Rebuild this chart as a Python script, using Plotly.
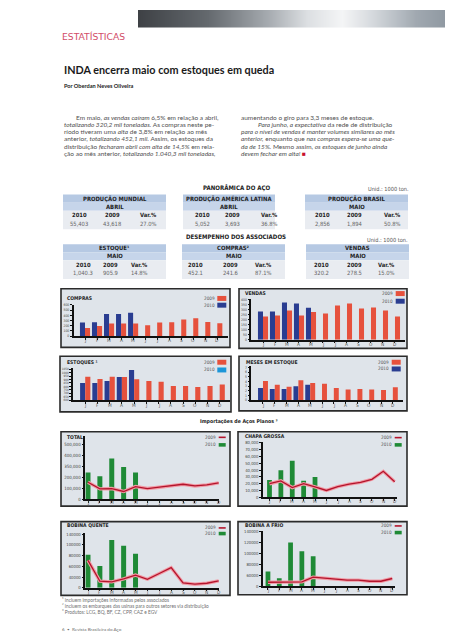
import plotly.graph_objects as go

W, H = 453, 640


def X(p):
    return p / W


def Y(p):
    return 1 - p / H


# ---------------- data ----------------
MONTHS = ["J", "F", "M", "A", "M", "J", "J", "A", "S", "O", "N", "D"]

compras_2009 = [159, 197, 242, 242, 242, 210, 261, 268, 318, 344, 274, 248]
compras_2010 = [261, 268, 427, 427, 452]
vendas_2009 = [233, 243, 293, 243, 278, 263, 343, 363, 313, 323, 293, 233]
vendas_2010 = [283, 283, 373, 363, 320]
estoques_2009 = [941, 907, 941, 936, 906, 878, 869, 806, 806, 792, 806, 830]
estoques_2010 = [850, 850, 878, 936, 1040]
meses_2009 = [4.1, 3.3, 2.9, 4.3, 3.7, 3.5, 2.6, 2.3, 2.4, 2.3, 2.2, 2.8]
meses_2010 = [2.6, 2.4, 2.4, 3.0, 3.3]
total_2009 = [158000, 97000, 100000, 73000, 118000, 100000, 112000, 127000, 139000, 124000, 133000, 152000]
total_2010 = [248000, 212000, 376000, 297000, 248000]
chapa_2009 = [20000, 24200, 14400, 20000, 15300, 10200, 15800, 19500, 21900, 26500, 38100, 22800]
chapa_2010 = [25600, 39500, 53500, 24200, 29800]
bq_2009 = [51000, 12200, 11000, 16400, 23600, 15800, 26600, 37600, 9000, 6600, 8400, 12800]
bq_2010 = [61800, 40600, 89000, 78200, 63600]
bf_2009 = [7200, 7800, 7800, 7800, 16400, 14000, 12800, 11000, 11000, 9000, 9000, 14000]
bf_2010 = [26600, 14600, 80000, 63600, 54600]

total_ticks = [0, 100000, 200000, 300000, 400000, 500000]
total_ticktext = ["0", "100,000", "200,000", "350,000", "400,000", "500,000"]
chapa_ticks = [0, 10000, 20000, 30000, 40000, 50000, 60000, 70000, 80000]
chapa_ticktext = ["0", "10,000", "20,000", "30,000", "40,000", "50,000", "60,000", "70,000", "80,000"]
bq_ticks = [0, 20000, 40000, 60000, 80000, 100000]
bq_ticktext = ["0", "40000", "60000", "80000", "100000", "140000"]
bf_ticks = [0, 20000, 40000, 60000, 80000, 100000]
bf_ticktext = ["0", "60000", "80000", "100000", "120000", "140000"]

table_titles = ["PRODUÇÃO MUNDIAL", "PRODUÇÃO AMÉRICA LATINA", "PRODUÇÃO BRASIL",
                "ESTOQUE¹", "COMPRAS²", "VENDAS"]
table_months = ["ABRIL", "ABRIL", "MAIO", "MAIO", "MAIO", "MAIO"]
table_2010 = ["55,403", "5,052", "2,856", "1,040.3", "452.1", "320.2"]
table_2009 = ["43,618", "3,693", "1,894", "905.9", "241.6", "278.5"]
table_var = ["27.0%", "36.8%", "50.8%", "14.8%", "87.1%", "15.0%"]
table_cols = ["2010", "2009", "Var.%"]

body_left = [
    "Em maio, <i>as vendas caíram</i> 6,5% em relação a abril,",
    "<i>totalizando 320,2 mil toneladas.</i> As compras neste pe-",
    "ríodo tiveram uma <i>alta</i> de 3,8% em relação ao mês",
    "anterior, <i>totalizando 452,1 mil.</i> Assim, os estoques da",
    "distribuição <i>fecharam abril com alta de 14,5%</i> em rela-",
    "ção ao mês anterior, <i>totalizando 1.040,3 mil toneladas,</i>",
]
body_right = [
    "aumentando o giro para 3,3 meses de estoque.",
    "<i>Para junho, a expectativa</i> da rede de distribuição",
    "<i>para o nível de vendas é manter volumes similares ao mês</i>",
    "<i>anterior,</i> enquanto que <i>nas compras espera-se uma que-</i>",
    "<i>da de 15%.</i> Mesmo assim, <i>os estoques de junho ainda</i>",
    "<i>devem fechar em alta!</i> <span style='color:#c8102e'>■</span>",
]
footnotes = [
    "¹ incluem importações informadas pelos associados",
    "² incluem os embarques das usinas para outros setores via distribuição",
    "³ Produtos: LCG, BQ, BF, CZ, CPP, CAZ e EGV",
]

# ---------------- styles ----------------
COND = "Liberation Sans Narrow, Arial Narrow, DejaVu Sans Condensed, Liberation Sans, sans-serif"
BODY = "Lato, Open Sans, sans-serif"
RED = "#e6513d"
BLUE = "#2a3d91"
LBLUE = "#1c96d8"
GREEN = "#1f8a36"
LINE = "#b3142c"
GLOW = "#f29aa5"
BOXBG = "#dfe4ea"

annotations = []
shapes = []
lay = {}
fig = go.Figure()


def text(x, y, s, size, color="#222", family=COND, xanchor="left", yanchor="middle", weight=None):
    font = dict(size=size, color=color, family=family)
    if weight:
        font["weight"] = weight
    annotations.append(dict(x=X(x), y=Y(y), xref="paper", yref="paper", text=s,
                            showarrow=False, font=font,
                            xanchor=xanchor, yanchor=yanchor, align="left", borderpad=0))


def rect(x0, y0, x1, y1, fill, line=None, lw=0):
    shapes.append(dict(type="rect", xref="paper", yref="paper", x0=X(x0), x1=X(x1),
                       y0=Y(y1), y1=Y(y0), fillcolor=fill,
                       line=dict(color=line or fill, width=lw), layer="below"))


def hline(x0, x1, y, color, width):
    shapes.append(dict(type="line", xref="paper", yref="paper", x0=X(x0), x1=X(x1),
                       y0=Y(y), y1=Y(y), line=dict(color=color, width=width), layer="above"))


# ---------------- header gradient (heatmap strip) ----------------
grad_x = list(range(130, 454, 2))
grad_scale = [[0.0, "rgb(62,65,69)"], [0.216, "rgb(100,105,110)"], [0.401, "rgb(165,170,175)"],
              [0.525, "rgb(220,223,226)"], [0.633, "rgb(244,245,246)"], [0.725, "rgb(214,218,222)"],
              [0.864, "rgb(160,168,176)"], [1.0, "rgb(135,145,154)"]]
fig.add_trace(go.Heatmap(z=[grad_x], x=grad_x, y=[0], colorscale=grad_scale, showscale=False,
                         xaxis="x9", yaxis="y9", hoverinfo="skip", zsmooth="best"))
lay["xaxis9"] = dict(domain=[X(130), 1], range=[130, 453], visible=False, anchor="y9", fixedrange=True)
lay["yaxis9"] = dict(domain=[Y(17.7), 1], range=[-0.5, 0.5], visible=False, anchor="x9", fixedrange=True)

text(53, 27, "ESTATÍSTICAS", 9.2, color="#d24d68", family="DejaVu Sans")
text(55, 60, "<b>INDA encerra maio com estoques em queda</b>", 10.8, color="#1a1a1a", family=BODY)
text(55, 76, "<b>Por Oberdan Neves Oliveira</b>", 5.6, color="#1a1a1a", family=BODY)

for i, s in enumerate(body_left):
    text(66.7 if i == 0 else 55, 108.3 + i * 7.2, s, 6.5, color="#505050", family=BODY)
for i, s in enumerate(body_right):
    text(249.3 if i == 1 else 232, 108.3 + i * 7.2, s, 6.5, color="#505050", family=BODY)

# ---------------- tables ----------------
text(228, 179, "<b>PANORÂMICA DO AÇO</b>", 6.1, color="#222", xanchor="center")
text(402, 180.5, "Unid.: 1000 ton.", 5.6, color="#555", xanchor="right")
text(228, 228, "<b>DESEMPENHO DOS ASSOCIADOS</b>", 6.1, color="#222", xanchor="center")
text(401, 231.5, "Unid.: 1000 ton.", 5.6, color="#555", xanchor="right")

table_geom = [
    (55, 158, 186, (71, 104, 140)),
    (175, 267, 186, (194, 224, 261)),
    (297, 400, 186, (314, 346.7, 384)),
    (55, 158, 236, (75, 102.7, 131)),
    (174, 277, 236, (187.7, 222.7, 255)),
    (298, 401, 236, (313.3, 346.7, 378.3)),
]
for k, (x0, x1, top, cols) in enumerate(table_geom):
    rect(x0, top, x1, top + 8.3, "#b6c9e3")
    rect(x0, top + 8.3, x1, top + 16.3, "#c6d5ea")
    rect(x0, top + 16.3, x1, top + 35, "#e9ecf1")
    cx = (x0 + x1) / 2
    text(cx, top + 4, "<b>" + table_titles[k] + "</b>", 5.9, color="#1e1e1e", xanchor="center")
    text(cx, top + 12.4, "<b>" + table_months[k] + "</b>", 5.9, color="#1e1e1e", xanchor="center")
    vals = [table_2010[k], table_2009[k], table_var[k]]
    for j in range(3):
        text(cols[j], top + 21, "<b>" + table_cols[j] + "</b>", 5.8, color="#1e1e1e", xanchor="center")
        text(cols[j], top + 29.3, vals[j], 5.8, color="#666", xanchor="center")


# ---------------- charts ----------------
def axes(i, xl, xr, yt, yb, xrange, yrange, tvals, ttext, yfont, lab_dy):
    sx = "" if i == 1 else str(i)
    lay["xaxis" + sx] = dict(domain=[X(xl), X(xr)], range=xrange, anchor="y" + sx,
                             tickmode="array", tickvals=list(range(12)), showticklabels=False,
                             showgrid=False, zeroline=False, showline=True, linecolor="#111",
                             linewidth=2, ticks="outside", ticklen=1.5, tickwidth=1,
                             tickcolor="#111", fixedrange=True)
    lay["yaxis" + sx] = dict(domain=[Y(yb), Y(yt)], range=yrange, anchor="x" + sx,
                             tickmode="array", tickvals=tvals, ticktext=ttext,
                             showgrid=False, zeroline=False, showline=True, linecolor="#111",
                             linewidth=1.5, ticks="outside", ticklen=2, tickwidth=1,
                             tickcolor="#111", tickfont=dict(size=yfont, color="#444", family=COND),
                             fixedrange=True)
    for m, lab in enumerate(MONTHS):
        annotations.append(dict(x=m, y=Y(yb + lab_dy), xref="x" + sx, yref="paper", text=lab,
                                showarrow=False, font=dict(size=4.8, color="#555", family=COND),
                                xanchor="center", yanchor="middle", borderpad=0))


def bars2(i, v09, v10, c10):
    xa, ya = ("x", "y") if i == 1 else ("x%d" % i, "y%d" % i)
    fig.add_trace(go.Bar(x=list(range(len(v10))), y=v10, width=0.42, offset=-0.42,
                         marker=dict(color=c10, line=dict(width=0)), xaxis=xa, yaxis=ya,
                         showlegend=False))
    fig.add_trace(go.Bar(x=list(range(12)), y=v09, width=0.42, offset=0.0,
                         marker=dict(color=RED, line=dict(width=0)), xaxis=xa, yaxis=ya,
                         showlegend=False))


def imports(i, v09, v10):
    xa, ya = "x%d" % i, "y%d" % i
    fig.add_trace(go.Bar(x=list(range(len(v10))), y=v10, width=0.42, offset=-0.21,
                         marker=dict(color=GREEN, line=dict(width=0)), xaxis=xa, yaxis=ya,
                         showlegend=False))
    fig.add_trace(go.Scatter(x=list(range(12)), y=v09, mode="lines",
                             line=dict(color=GLOW, width=3.4), xaxis=xa, yaxis=ya,
                             showlegend=False))
    fig.add_trace(go.Scatter(x=list(range(12)), y=v09, mode="lines",
                             line=dict(color=LINE, width=1.3), xaxis=xa, yaxis=ya,
                             showlegend=False))


def box(x0, y0, x1, y1, title, tx, ty):
    rect(x0, y0, x1, y1, BOXBG, "#2b2b2b", 1.6)
    text(tx, ty, "<b>" + title + "</b>", 5.0, color="#1e1e1e")


def legend_bars(lx, y1, y2, c10):
    text(lx - 1.5, y1, "2009", 4.6, color="#555", xanchor="right")
    text(lx - 1.5, y2, "2010", 4.6, color="#555", xanchor="right")
    rect(lx, y1 - 2.5, lx + 9, y1 + 2.5, RED)
    rect(lx, y2 - 2.5, lx + 9, y2 + 2.5, c10)


def legend_lines(lx, y1, y2):
    text(lx - 1.5, y1, "2009", 4.6, color="#555", xanchor="right")
    text(lx - 1.5, y2, "2010", 4.6, color="#555", xanchor="right")
    hline(lx, lx + 7, y1, LINE, 1.6)
    rect(lx, y2 - 1.8, lx + 7, y2 + 1.8, GREEN)


# COMPRAS
box(53, 281, 222, 340, "COMPRAS", 57.7, 290)
axes(1, 65.7, 220, 297.3, 328.7, [-0.94, 11.89], [0, 600],
     list(range(0, 601, 100)), [str(v) for v in range(0, 601, 100)], 3.4, 4.5)
bars2(1, compras_2009, compras_2010, BLUE)
legend_bars(209.3, 290.7, 297.5, BLUE)

# VENDAS
box(231, 281, 399, 341, "VENDAS", 235.5, 285.5)
axes(2, 243.3, 396.7, 291, 332.3, [-0.975, 11.81], [0, 410],
     list(range(0, 401, 50)), [str(v) for v in range(0, 401, 50)], 3.4, 4.5)
bars2(2, vendas_2009, vendas_2010, BLUE)
legend_bars(387.7, 285.8, 293.5, BLUE)

# ESTOQUES
box(52, 349, 223, 405, "ESTOQUES ¹", 58.3, 355)
axes(3, 65, 221.7, 361, 393.3, [-1.0, 11.82], [600, 1065],
     list(range(600, 1051, 50)), [str(v) for v in range(600, 1051, 50)], 3.0, 5)
bars2(3, estoques_2009, estoques_2010, BLUE)
legend_bars(209.3, 355, 362.8, LBLUE)

# MESES EM ESTOQUE
box(231, 349, 399, 404, "MESES EM ESTOQUE", 236.7, 355)
axes(4, 243.3, 395, 359, 393.3, [-0.99, 11.86], [0, 7.28],
     list(range(0, 8)), [str(v) for v in range(0, 8)], 3.4, 5)
bars2(4, meses_2009, meses_2010, BLUE)
legend_bars(383.7, 355, 361.8, BLUE)

text(231, 415, "<b>Importações de Aços Planos ³</b>", 5.2, color="#222", xanchor="center")

# TOTAL
box(53, 425, 222, 500, "TOTAL", 58.3, 430.7)
axes(5, 77.3, 211.4, 429.3, 493.3, [-0.227, 11.06], [0, 582000],
     total_ticks, total_ticktext, 4.4, 3.5)
imports(5, total_2009, total_2010)
legend_lines(210.7, 430.7, 438.3)

# CHAPA GROSSA
box(230, 425, 399, 500, "CHAPA GROSSA", 236, 429.3)
axes(6, 255, 389.3, 435, 491.3, [-0.57, 11.23], [0, 81450],
     chapa_ticks, chapa_ticktext, 4.2, 4.5)
imports(6, chapa_2009, chapa_2010)
legend_lines(386.7, 431, 438.3)

# BOBINA QUENTE
box(53, 515.7, 222, 590, "BOBINA QUENTE", 58.3, 519.3)
axes(7, 77.3, 211.4, 527, 582.3, [-0.227, 11.06], [0, 102400],
     bq_ticks, bq_ticktext, 4.2, 4.5)
imports(7, bq_2009, bq_2010)
legend_lines(210.7, 522, 527.7)

# BOBINA A FRIO
box(230, 515.7, 399, 589.3, "BOBINA A FRIO", 236, 519)
axes(8, 255, 387.3, 525, 580.7, [-0.44, 11.27], [0, 101000],
     bf_ticks, bf_ticktext, 4.2, 4.5)
imports(8, bf_2009, bf_2010)
legend_lines(386.7, 520, 526.7)

# footnotes
for i, s in enumerate(footnotes):
    text(53.3, 594.5 + i * 6.2, s, 4.8, color="#707070", family=BODY)
text(53.3, 624.3, "6  •  Revista Brasileira do Aço", 4.6, color="#707070", family=BODY)

fig.update_layout(
    width=W, height=H, autosize=False,
    margin=dict(l=0, r=0, t=0, b=0),
    paper_bgcolor="white", plot_bgcolor="rgba(0,0,0,0)",
    barmode="overlay", showlegend=False,
    annotations=annotations, shapes=shapes, **lay,
)
fig.write_html("out.html")
